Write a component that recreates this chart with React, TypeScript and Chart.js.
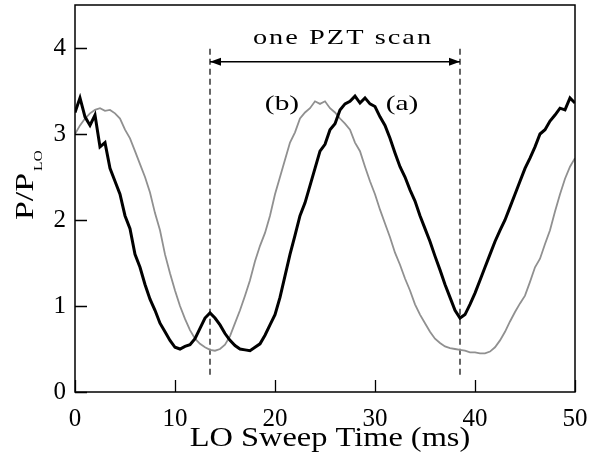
import { useEffect, useRef } from 'react';
import { Chart, registerables } from 'chart.js';

Chart.register(...registerables);

// ---- data ----
const sweepTimeMs: number[] = [
  0, 0.5, 1, 1.5, 2, 2.5, 3, 3.5, 4, 4.5, 5, 5.5, 6, 6.5, 7, 7.5, 8, 8.5, 9, 9.5,
  10, 10.5, 11, 11.5, 12, 12.5, 13, 13.5, 14, 14.5, 15, 15.5, 16, 16.5, 17, 17.5, 18, 18.5, 19, 19.5,
  20, 20.5, 21, 21.5, 22, 22.5, 23, 23.5, 24, 24.5, 25, 25.5, 26, 26.5, 27, 27.5, 28, 28.5, 29, 29.5,
  30, 30.5, 31, 31.5, 32, 32.5, 33, 33.5, 34, 34.5, 35, 35.5, 36, 36.5, 37, 37.5, 38, 38.5, 39, 39.5,
  40, 40.5, 41, 41.5, 42, 42.5, 43, 43.5, 44, 44.5, 45, 45.5, 46, 46.5, 47, 47.5, 48, 48.5, 49, 49.5, 50,
];

// trace (a): black, thick
const traceA: number[] = [
  3.25, 3.42, 3.2, 3.1, 3.22, 2.85, 2.9, 2.6, 2.45, 2.3, 2.05, 1.9, 1.6, 1.45, 1.25, 1.08, 0.95, 0.8, 0.7, 0.6,
  0.52, 0.5, 0.53, 0.55, 0.62, 0.74, 0.86, 0.92, 0.86, 0.78, 0.68, 0.6, 0.54, 0.5, 0.49, 0.48, 0.52, 0.56, 0.66, 0.78,
  0.9, 1.1, 1.35, 1.6, 1.82, 2.05, 2.2, 2.4, 2.6, 2.8, 2.88, 3.05, 3.12, 3.28, 3.35, 3.38, 3.44, 3.36, 3.42, 3.35,
  3.32, 3.2, 3.1, 2.95, 2.78, 2.62, 2.5, 2.35, 2.22, 2.05, 1.9, 1.75, 1.58, 1.42, 1.25, 1.1, 0.95, 0.86, 0.9, 1.02,
  1.15, 1.3, 1.45, 1.6, 1.75, 1.88, 2.0, 2.15, 2.3, 2.45, 2.6, 2.72, 2.85, 3.0, 3.05, 3.15, 3.22, 3.3, 3.28, 3.42, 3.36,
];

// trace (b): grey, thinner
const traceB: number[] = [
  3.0, 3.1, 3.18, 3.24, 3.28, 3.3, 3.27, 3.28, 3.24, 3.18, 3.05, 2.95, 2.8, 2.65, 2.5, 2.32, 2.08, 1.88, 1.6, 1.38,
  1.18, 1.0, 0.85, 0.72, 0.62, 0.56, 0.52, 0.49, 0.48, 0.5, 0.55, 0.65, 0.8, 0.95, 1.12, 1.3, 1.52, 1.7, 1.85, 2.05,
  2.3, 2.5, 2.7, 2.9, 3.02, 3.18, 3.25, 3.3, 3.38, 3.35, 3.38, 3.3, 3.25, 3.18, 3.12, 3.05, 2.9, 2.8, 2.62, 2.45,
  2.3, 2.12, 1.96, 1.8, 1.62, 1.48, 1.32, 1.18, 1.02, 0.9, 0.8, 0.7, 0.62, 0.57, 0.53, 0.51, 0.5, 0.49, 0.48, 0.46,
  0.46, 0.45, 0.45, 0.47, 0.52, 0.6, 0.7, 0.82, 0.93, 1.03, 1.12, 1.28, 1.45, 1.55, 1.72, 1.88, 2.1, 2.3, 2.48, 2.62, 2.72,
];

const xTickValues: number[] = [0, 10, 20, 30, 40, 50];
const yTickValues: number[] = [0, 1, 2, 3, 4];
const pztMarkersMs: number[] = [13.5, 38.5];
const markerSpan: number[] = [0.2, 4.03];
const scanArrowLevel = 3.84;
const scanLabel = 'one PZT scan';
const traceLabels: string[] = ['(a)', '(b)'];
const traceLabelPos: number[][] = [[32.7, 3.36], [20.7, 3.36]];
const xTitle = 'LO Sweep Time (ms)';
const yTitleMain = 'P/P';
const yTitleSub = 'LO';

const SERIF = '"Liberation Serif", "Times New Roman", Times, serif';

function drawStretched(
  ctx: CanvasRenderingContext2D,
  text: string,
  x: number,
  y: number,
  size: number,
  sx: number,
  spacing: number,
  align: 'left' | 'center',
) {
  ctx.save();
  ctx.font = `normal ${size}px ${SERIF}`;
  (ctx as any).letterSpacing = `${spacing}px`;
  ctx.textAlign = 'left';
  ctx.textBaseline = 'alphabetic';
  const w = (ctx.measureText(text).width - spacing) * sx;
  ctx.translate(align === 'center' ? x - w / 2 : x, y);
  ctx.scale(sx, 1);
  ctx.fillStyle = '#000';
  ctx.fillText(text, 0, 0);
  ctx.restore();
  return w;
}

const decorPlugin = {
  id: 'decor',
  afterDraw(chart: any) {
    const { ctx, chartArea, scales } = chart;
    const xs = scales.x;
    const ys = scales.y;
    ctx.save();
    // frame
    ctx.strokeStyle = '#000';
    ctx.lineWidth = 1.5;
    ctx.strokeRect(chartArea.left, chartArea.top, chartArea.right - chartArea.left, chartArea.bottom - chartArea.top);
    // inward ticks
    ctx.lineWidth = 1.3;
    ctx.beginPath();
    xTickValues.forEach((v) => {
      const px = Math.round(xs.getPixelForValue(v)) + 0.5;
      ctx.moveTo(px, chartArea.bottom);
      ctx.lineTo(px, chartArea.bottom - 12);
    });
    yTickValues.forEach((v) => {
      const py = Math.round(ys.getPixelForValue(v)) + 0.5;
      ctx.moveTo(chartArea.left, py);
      ctx.lineTo(chartArea.left + 12, py);
    });
    ctx.stroke();
    // arrow heads
    const ay = ys.getPixelForValue(scanArrowLevel);
    const ax0 = xs.getPixelForValue(pztMarkersMs[0]);
    const ax1 = xs.getPixelForValue(pztMarkersMs[1]);
    ctx.fillStyle = '#000';
    ctx.beginPath();
    ctx.moveTo(ax0, ay);
    ctx.lineTo(ax0 + 11, ay - 4);
    ctx.lineTo(ax0 + 11, ay + 4);
    ctx.closePath();
    ctx.fill();
    ctx.beginPath();
    ctx.moveTo(ax1, ay);
    ctx.lineTo(ax1 - 11, ay - 4);
    ctx.lineTo(ax1 - 11, ay + 4);
    ctx.closePath();
    ctx.fill();
    ctx.restore();

    // scan label
    const midX = (ax0 + ax1) / 2;
    drawStretched(ctx, scanLabel, midX + 7, ay - 18, 21, 1.35, 1.5, 'center');
    // trace labels
    traceLabels.forEach((t, i) => {
      const [lx, ly] = traceLabelPos[i];
      drawStretched(ctx, t, xs.getPixelForValue(lx), ys.getPixelForValue(ly) + 7, 21, 1.4, 0, 'center');
    });
    // x title
    drawStretched(ctx, xTitle, (chartArea.left + chartArea.right) / 2 + 5, 446, 27, 1.2, 0, 'center');
    // y title (rotated)
    ctx.save();
    ctx.translate(33, 220);
    ctx.rotate(-Math.PI / 2);
    const w = drawStretched(ctx, yTitleMain, 0, 0, 26, 1.3, 0, 'left');
    drawStretched(ctx, yTitleSub, w + 2, 9, 12, 1.3, 0, 'left');
    ctx.restore();
  },
};

export default function App() {
  const ref = useRef<HTMLCanvasElement | null>(null);
  useEffect(() => {
    if (!ref.current) return;
    const toPts = (ys: number[]) => ys.map((y, i) => ({ x: sweepTimeMs[i], y }));
    const markerSets = pztMarkersMs.map((m) => ({
      label: 'marker',
      data: [{ x: m, y: markerSpan[0] }, { x: m, y: markerSpan[1] }],
      borderColor: '#000',
      borderWidth: 1.2,
      borderDash: [6, 4],
      pointRadius: 0,
      order: 3,
    }));
    const chart = new Chart(ref.current, {
      type: 'line',
      data: {
        datasets: [
          {
            label: '(a)',
            data: toPts(traceA),
            borderColor: '#000',
            borderWidth: 3,
            pointRadius: 0,
            tension: 0,
            order: 1,
          },
          {
            label: '(b)',
            data: toPts(traceB),
            borderColor: '#909090',
            borderWidth: 1.8,
            pointRadius: 0,
            tension: 0,
            order: 2,
          },
          ...markerSets,
          {
            label: 'scan',
            data: [{ x: pztMarkersMs[0], y: scanArrowLevel }, { x: pztMarkersMs[1], y: scanArrowLevel }],
            borderColor: '#000',
            borderWidth: 1.5,
            pointRadius: 0,
            order: 3,
          },
        ] as any,
      },
      options: {
        animation: false,
        responsive: false,
        events: [],
        layout: { padding: { left: 0, right: 27, top: 5, bottom: 0 } },
        plugins: { legend: { display: false }, tooltip: { enabled: false } },
        scales: {
          x: {
            type: 'linear',
            min: 0,
            max: 50,
            afterFit: (s: any) => { s.height = 71; s.paddingLeft = 0; s.paddingRight = 0; },
            afterBuildTicks: (s: any) => { s.ticks = xTickValues.map((v) => ({ value: v })); },
            ticks: { font: { family: SERIF, size: 25 }, color: '#000', padding: 12, maxRotation: 0 },
            grid: { display: false, drawTicks: false },
            border: { display: false },
          },
          y: {
            type: 'linear',
            min: 0,
            max: 4.5,
            afterFit: (s: any) => { s.width = 75; s.paddingTop = 0; s.paddingBottom = 0; },
            afterBuildTicks: (s: any) => { s.ticks = yTickValues.map((v) => ({ value: v })); },
            ticks: { font: { family: SERIF, size: 25 }, color: '#000', padding: 9 },
            grid: { display: false, drawTicks: false },
            border: { display: false },
          },
        },
      } as any,
      plugins: [decorPlugin],
    });
    return () => chart.destroy();
  }, []);
  return (
    <div style={{ position: 'fixed', left: 0, top: 0, width: 602, height: 463, background: '#fff' }}>
      <canvas ref={ref} width={602} height={463} />
    </div>
  );
}
